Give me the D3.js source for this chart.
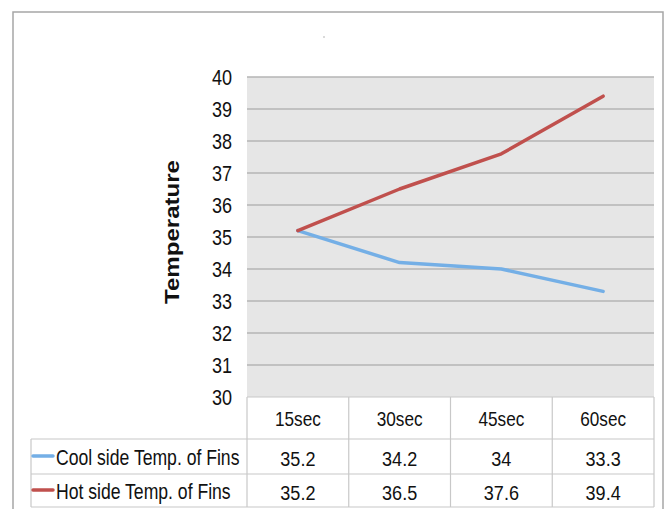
<!DOCTYPE html>
<html>
<head>
<meta charset="utf-8">
<script src="https://cdn.jsdelivr.net/npm/d3@7"></script>
<style>
  html, body { margin: 0; padding: 0; background: #fff; }
  svg { display: block; font-family: "Liberation Sans", Arial, sans-serif; }
</style>
</head>
<body>
<svg id="chart" width="666" height="509"></svg>
<script>
// Fin temperatures over time
const categories = ["15sec", "30sec", "45sec", "60sec"];
const coolSide = [35.2, 34.2, 34, 33.3];
const hotSide = [35.2, 36.5, 37.6, 39.4];
const seriesNames = ["Cool side Temp. of Fins", "Hot side Temp. of Fins"];
const seriesColors = ["#74afe6", "#c0504d"];
const yTicks = [30, 31, 32, 33, 34, 35, 36, 37, 38, 39, 40];
const yTitle = "Temperature";

const series = [
  { name: seriesNames[0], values: coolSide, color: seriesColors[0] },
  { name: seriesNames[1], values: hotSide, color: seriesColors[1] }
];

const svg = d3.select("#chart");

const plot = { left: 247, right: 654, top: 77, bottom: 397 };
const rowLines = [439, 474, 507];
const tableLeft = 31;

const x = d3.scaleBand().domain(categories).range([plot.left, plot.right]);
const y = d3.scaleLinear().domain([30, 40]).range([plot.bottom, plot.top]);

// chart frame
svg.append("rect")
  .attr("x", 13).attr("y", 12).attr("width", 650).attr("height", 520)
  .attr("fill", "#fff").attr("stroke", "#a6a6a6").attr("stroke-width", 1.5);

// small title mark
svg.append("circle").attr("cx", 324).attr("cy", 37).attr("r", 0.7).attr("fill", "#999");

// narrow text helper (condensed rendering)
function label(g, str, px, py, size, anchor, sx, weight) {
  return g.append("text")
    .attr("transform", `translate(${px},${py}) scale(${sx},1)`)
    .attr("text-anchor", anchor)
    .attr("font-size", size)
    .attr("font-weight", weight || "normal")
    .attr("fill", "#111")
    .text(str);
}

// plot background
svg.append("rect")
  .attr("x", plot.left).attr("y", plot.top)
  .attr("width", plot.right - plot.left).attr("height", plot.bottom - plot.top)
  .attr("fill", "#e6e6e6");

// horizontal gridlines
svg.append("g").selectAll("line").data(yTicks.filter(t => t > 30)).join("line")
  .attr("x1", plot.left).attr("x2", plot.right)
  .attr("y1", d => y(d)).attr("y2", d => y(d))
  .attr("stroke", "#b4b4b4").attr("stroke-width", 1.3);

// y tick labels
const yAxisG = svg.append("g");
yTicks.forEach(t => {
  label(yAxisG, String(t), 232, y(t) + 8, 22, "end", 0.82);
});

// y-axis title
svg.append("text")
  .attr("transform", `translate(179,${(160 + 304) / 2}) rotate(-90)`)
  .attr("text-anchor", "middle")
  .attr("font-size", 20)
  .attr("font-weight", "bold")
  .attr("textLength", 144)
  .attr("lengthAdjust", "spacingAndGlyphs")
  .attr("fill", "#111")
  .text(yTitle);

// data table grid
const grid = svg.append("g").attr("stroke", "#c8c8c8").attr("stroke-width", 1.2);
const colEdges = categories.map(c => x(c)).concat([plot.right]);
colEdges.forEach(cx => {
  grid.append("line").attr("x1", cx).attr("x2", cx).attr("y1", plot.bottom).attr("y2", rowLines[2]);
});
grid.append("line").attr("x1", tableLeft).attr("x2", tableLeft).attr("y1", rowLines[0]).attr("y2", rowLines[2]);
grid.append("line").attr("x1", plot.left).attr("x2", plot.right).attr("y1", plot.bottom).attr("y2", plot.bottom);
rowLines.forEach(ry => {
  grid.append("line").attr("x1", tableLeft).attr("x2", plot.right).attr("y1", ry).attr("y2", ry);
});

// category header row
const tableText = svg.append("g");
categories.forEach(c => {
  label(tableText, c, x(c) + x.bandwidth() / 2, 426, 20, "middle", 0.86);
});

// series rows: legend key, name and values
const rowBaselines = [465, 499];
series.forEach((s, i) => {
  const midY = (rowLines[i] + rowLines[i + 1]) / 2 - 0.5;
  svg.append("line")
    .attr("x1", 33).attr("x2", 53).attr("y1", midY).attr("y2", midY)
    .attr("stroke", s.color).attr("stroke-width", 3.5).attr("stroke-linecap", "round");
  label(tableText, s.name, 56, rowBaselines[i], 22, "start", 0.8);
  s.values.forEach((v, j) => {
    label(tableText, String(v), x(categories[j]) + x.bandwidth() / 2, rowBaselines[i] + 1, 21, "middle", 0.86);
  });
});

// series lines
const line = d3.line()
  .x((d, i) => x(categories[i]) + x.bandwidth() / 2)
  .y(d => y(d));

svg.append("g").selectAll("path").data(series).join("path")
  .attr("d", d => line(d.values))
  .attr("fill", "none")
  .attr("stroke", d => d.color)
  .attr("stroke-width", 3.5)
  .attr("stroke-linejoin", "round")
  .attr("stroke-linecap", "round");
</script>
</body>
</html>
